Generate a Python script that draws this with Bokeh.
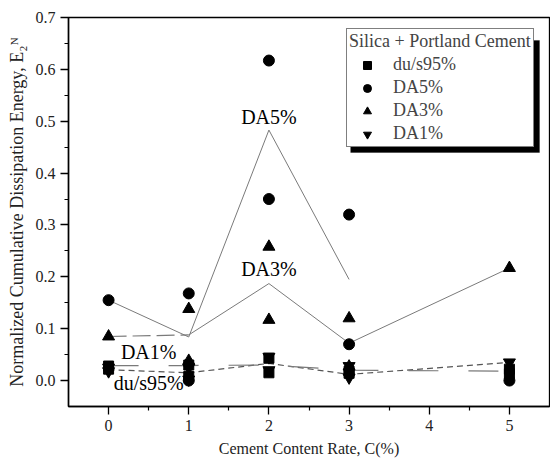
from bokeh.plotting import figure
from bokeh.models import (Range1d, Legend, LegendItem, Label, BoxAnnotation,
                          FixedTicker, NumeralTickFormatter)
from bokeh.embed import file_html
from bokeh.resources import INLINE

# ---- data: individual specimens ----
du_x = [0, 0, 1, 1, 2, 2, 3, 3, 5, 5]
du_y = [0.028, 0.022, 0.030, 0.008, 0.043, 0.015, 0.018, 0.014, 0.022, 0.013]

da5_x = [0, 1, 1, 2, 2, 3, 3, 5]
da5_y = [0.155, 0.168, 0.000, 0.617, 0.350, 0.320, 0.070, 0.000]

da3_x = [0, 1, 1, 2, 2, 3, 3, 5]
da3_y = [0.085, 0.138, 0.038, 0.258, 0.117, 0.120, 0.027, 0.217]

da1_x = [0, 0, 1, 1, 2, 2, 3, 3, 5]
da1_y = [0.018, 0.025, 0.025, 0.002, 0.046, 0.020, 0.028, 0.006, 0.035]

# ---- data: mean trend lines ----
da5_mx = [0, 1, 2, 3]
da5_my = [0.155, 0.084, 0.483, 0.195]

da3_mx = [0, 1, 2, 3, 5]
da3_my = [0.085, 0.088, 0.187, 0.072, 0.217]

da1_mx = [0, 1, 2, 3, 5]
da1_my = [0.021, 0.015, 0.033, 0.012, 0.035]

du_mx = [0, 1, 2, 3, 5]
du_my = [0.029, 0.029, 0.030, 0.020, 0.018]

x_ticks = [0, 1, 2, 3, 4, 5]
x_minor = [0.5, 1.5, 2.5, 3.5, 4.5]
y_ticks = [0.0, 0.1, 0.2, 0.3, 0.4, 0.5, 0.6, 0.7]
y_minor = [0.05, 0.15, 0.25, 0.35, 0.45, 0.55, 0.65]

FONT = "Liberation Serif"
LINE = "#7a7a7a"

p = figure(width=550, height=465, x_range=Range1d(-0.5, 5.5), y_range=Range1d(-0.05, 0.7),
           output_backend="svg", toolbar_location=None,
           min_border_left=68, min_border_right=1, min_border_top=17, min_border_bottom=59)
p.xgrid.visible = False
p.ygrid.visible = False
p.outline_line_color = "black"
p.outline_line_width = 1.3
p.background_fill_color = "white"
p.border_fill_color = "white"

# trend lines
p.line(da5_mx, da5_my, line_color=LINE, line_width=1)
p.line(da3_mx[:2], da3_my[:2], line_color=LINE, line_width=1.2, line_dash="18 6")
p.line(da3_mx[1:], da3_my[1:], line_color=LINE, line_width=1)
p.line(da1_mx, da1_my, line_color="#555555", line_width=1.2, line_dash="6 4")
p.line(du_mx, du_my, line_color=LINE, line_width=1.2, line_dash="30 30")

# markers
r_du = p.scatter(du_x, du_y, marker="square", size=10, color="black")
r_da5 = p.scatter(da5_x, da5_y, marker="circle", size=11, color="black")
r_da3 = p.scatter(da3_x, da3_y, marker="triangle", size=12, color="black")
r_da1 = p.scatter(da1_x, da1_y, marker="inverted_triangle", size=12, color="black")

# series labels on the plot
for txt, lx, ly, base in [("DA5%", 2, 0.487, "bottom"), ("DA3%", 2, 0.194, "bottom"),
                          ("DA1%", 0.5, 0.033, "bottom"), ("du/s95%", 0.5, -0.005, "middle")]:
    p.add_layout(Label(x=lx, y=ly, text=txt, text_align="center", text_baseline=base,
                       text_font=FONT, text_font_size="20px", text_color="black"))

# axes
xa = p.xaxis[0]
ya = p.yaxis[0]
xa.ticker = FixedTicker(ticks=x_ticks, minor_ticks=x_minor)
ya.ticker = FixedTicker(ticks=y_ticks, minor_ticks=y_minor)
ya.formatter = NumeralTickFormatter(format="0.0")
xa.axis_label = "Cement Content Rate, C(%)"
ya.axis_label = "Normalized Cumulative Dissipation Energy, E\u2082\u1d3a"
for ax in (xa, ya):
    ax.axis_line_width = 1.5
    ax.axis_line_color = "black"
    ax.major_tick_line_color = "black"
    ax.minor_tick_line_color = "black"
    ax.major_tick_line_width = 1.3
    ax.minor_tick_line_width = 1.2
    ax.major_tick_out = 8
    ax.major_tick_in = 0
    ax.minor_tick_out = 4
    ax.minor_tick_in = 0
    ax.major_label_text_font = FONT
    ax.major_label_text_font_size = "16px"
    ax.major_label_text_color = "#222222"
    ax.axis_label_text_font = FONT
    ax.axis_label_text_font_style = "normal"
    ax.axis_label_text_color = "#222222"
xa.axis_label_text_font_size = "16px"
ya.axis_label_text_font_size = "18px"
xa.major_label_standoff = 5
xa.axis_label_standoff = 6
ya.major_label_standoff = 5
ya.axis_label_standoff = 6

# legend shadow
p.add_layout(BoxAnnotation(left=3.02, right=5.375, top=0.6557, bottom=0.4397,
                           fill_color="black", fill_alpha=1, line_color="black"))

legend = Legend(items=[LegendItem(label="du/s95%", renderers=[r_du]),
                       LegendItem(label="DA5%", renderers=[r_da5]),
                       LegendItem(label="DA3%", renderers=[r_da3]),
                       LegendItem(label="DA1%", renderers=[r_da1])],
                title="Silica + Portland Cement", location=(278, 259))
legend.title_text_font = FONT
legend.title_text_font_size = "18px"
legend.title_text_font_style = "normal"
legend.label_text_font = FONT
legend.label_text_font_size = "18px"
legend.border_line_color = "black"
legend.border_line_width = 1
legend.background_fill_color = "white"
legend.background_fill_alpha = 1
legend.padding = 2
legend.margin = 0
legend.spacing = 2
legend.glyph_width = 36
legend.glyph_height = 20
legend.label_height = 20
legend.label_standoff = 8
legend.title_standoff = 2
p.add_layout(legend, "center")

open("out.html", "w").write(file_html(p, INLINE))
